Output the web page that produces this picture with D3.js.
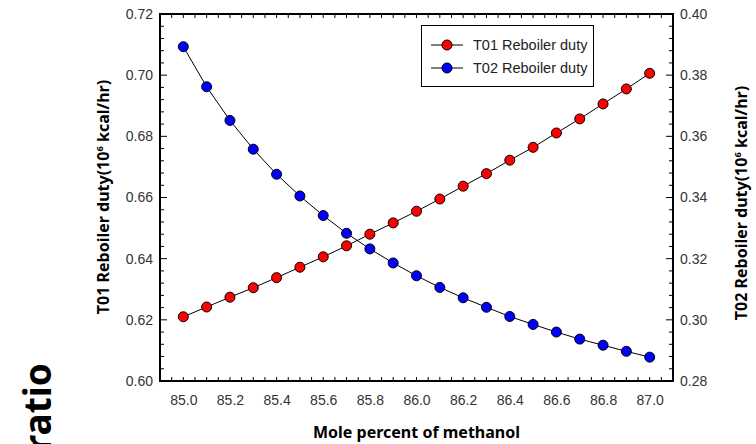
<!DOCTYPE html>
<html><head><meta charset="utf-8">
<script src="https://cdn.jsdelivr.net/npm/d3@7"></script>
<style>html,body{margin:0;padding:0;background:#fff;}svg{display:block;}</style>
</head><body>
<svg id="c" width="756" height="444"></svg>
<script>
const methanol = [85.0,85.1,85.2,85.3,85.4,85.5,85.6,85.7,85.8,85.9,86.0,86.1,86.2,86.3,86.4,86.5,86.6,86.7,86.8,86.9,87.0];
const t01Duty = [0.6210,0.6242,0.6274,0.6305,0.6338,0.6372,0.6406,0.6442,0.6480,0.6517,0.6555,0.6595,0.6637,0.6678,0.6722,0.6764,0.6811,0.6857,0.6906,0.6955,0.7006];
const t02Duty = [0.3893,0.3762,0.3652,0.3558,0.3476,0.3405,0.3341,0.3283,0.3232,0.3186,0.3144,0.3106,0.3072,0.3041,0.3011,0.2985,0.2960,0.2937,0.2917,0.2897,0.2878];
const xTickLabels = [85.0,85.2,85.4,85.6,85.8,86.0,86.2,86.4,86.6,86.8,87.0];
const leftTickLabels = [0.60,0.62,0.64,0.66,0.68,0.70,0.72];
const rightTickLabels = [0.28,0.30,0.32,0.34,0.36,0.38,0.40];
const seriesNames = ["T01 Reboiler duty","T02 Reboiler duty"];

const svg = d3.select("#c");
const L=160,R=673,T=14,B=381;
const x = d3.scaleLinear().domain([84.9,87.1]).range([L,R]);
const yL = d3.scaleLinear().domain([0.60,0.72]).range([B,T]);
const yR = d3.scaleLinear().domain([0.28,0.40]).range([B,T]);
const tickFont = "'Liberation Sans', Arial, sans-serif";
const titleFont = "'Noto Sans', 'DejaVu Sans', sans-serif";

const xMinor = d3.range(0,45).map(i=>84.9+i*0.05).filter(v=>v>84.91&&v<87.09);
const yLMinor = d3.range(0,31).map(i=>0.60+i*0.004);
const yRMinor = d3.range(0,31).map(i=>0.28+i*0.004);

const g = svg.append("g");
g.selectAll(".xb").data(xMinor).join("line").attr("x1",d=>x(d)).attr("x2",d=>x(d)).attr("y1",B).attr("y2",B-4).attr("stroke","#000").attr("stroke-width",1);
g.selectAll(".xt").data(xMinor).join("line").attr("x1",d=>x(d)).attr("x2",d=>x(d)).attr("y1",T).attr("y2",T+4).attr("stroke","#000").attr("stroke-width",1);
g.selectAll(".yl").data(yLMinor).join("line").attr("x1",L).attr("x2",(d,i)=>L+(i%5===0?7:4)).attr("y1",d=>yL(d)).attr("y2",d=>yL(d)).attr("stroke","#000").attr("stroke-width",1);
g.selectAll(".yr").data(yRMinor).join("line").attr("x1",R).attr("x2",(d,i)=>R-(i%5===0?7:4)).attr("y1",d=>yR(d)).attr("y2",d=>yR(d)).attr("stroke","#000").attr("stroke-width",1);

svg.append("rect").attr("x",L).attr("y",T).attr("width",R-L).attr("height",B-T).attr("fill","none").attr("stroke","#000").attr("stroke-width",2);

const xAx = svg.append("g").attr("transform",`translate(0,${B})`).call(d3.axisBottom(x).tickValues(xTickLabels).tickSize(0).tickPadding(14).tickFormat(d3.format(".1f")));
const yAxL = svg.append("g").attr("transform",`translate(${L},0)`).call(d3.axisLeft(yL).tickValues(leftTickLabels).tickSize(0).tickPadding(7).tickFormat(d3.format(".2f")));
const yAxR = svg.append("g").attr("transform",`translate(${R},0)`).call(d3.axisRight(yR).tickValues(rightTickLabels).tickSize(0).tickPadding(7).tickFormat(d3.format(".2f")));
[xAx,yAxL,yAxR].forEach(a=>{a.select(".domain").remove();a.selectAll("text").attr("font-family",tickFont).attr("font-size",14).attr("fill","#333");});

const lineL = d3.line().x((d,i)=>x(methanol[i])).y(d=>yL(d));
const lineR = d3.line().x((d,i)=>x(methanol[i])).y(d=>yR(d));
svg.append("path").attr("d",lineL(t01Duty)).attr("fill","none").attr("stroke","#000").attr("stroke-width",1);
svg.append("path").attr("d",lineR(t02Duty)).attr("fill","none").attr("stroke","#000").attr("stroke-width",1);
svg.selectAll(".p1").data(t01Duty).join("circle").attr("cx",(d,i)=>x(methanol[i])).attr("cy",d=>yL(d)).attr("r",5).attr("fill","#ff0000").attr("stroke","#000").attr("stroke-width",1);
svg.selectAll(".p2").data(t02Duty).join("circle").attr("cx",(d,i)=>x(methanol[i])).attr("cy",d=>yR(d)).attr("r",5).attr("fill","#0000ff").attr("stroke","#000").attr("stroke-width",1);

const lg = svg.append("g");
lg.append("rect").attr("x",421.5).attr("y",25.5).attr("width",172).attr("height",61).attr("fill","#fff").attr("stroke","#000").attr("stroke-width",1);
const colors=["#ff0000","#0000ff"];
seriesNames.forEach((n,i)=>{
  const yy = 45+i*23;
  lg.append("line").attr("x1",431).attr("x2",463).attr("y1",yy).attr("y2",yy).attr("stroke","#000").attr("stroke-width",1);
  lg.append("circle").attr("cx",447).attr("cy",yy).attr("r",5).attr("fill",colors[i]).attr("stroke","#000");
  lg.append("text").attr("x",473).attr("y",yy+5).attr("font-family",tickFont).attr("font-size",14.5).attr("fill","#222").text(n);
});

svg.append("text").attr("x",(L+R)/2).attr("y",438).attr("text-anchor","middle").attr("font-family",titleFont).attr("font-weight","bold").attr("font-size",16).attr("fill","#000").text("Mole percent of methanol");
function rotTitle(cx,cy,txt){
  const t = svg.append("text").attr("transform",`translate(${cx},${cy}) rotate(-90)`).attr("text-anchor","middle").attr("font-family",titleFont).attr("font-weight","bold").attr("font-size",16).attr("fill","#000");
  t.append("tspan").text(txt[0]);
  t.append("tspan").attr("dy",-6).attr("font-size",9.5).text("6");
  t.append("tspan").attr("dy",6).text(txt[1]);
}
rotTitle(109,197,["T01 Reboiler duty(10"," kcal/hr)"]);
rotTitle(747,203,["T02 Reboiler duty(10"," kcal/hr)"]);

svg.append("text").attr("transform","translate(51,363) rotate(-90)").attr("text-anchor","end").attr("font-family",titleFont).attr("font-weight","bold").attr("font-size",37).attr("fill","#000").text("ratio");
</script>
</body></html>
